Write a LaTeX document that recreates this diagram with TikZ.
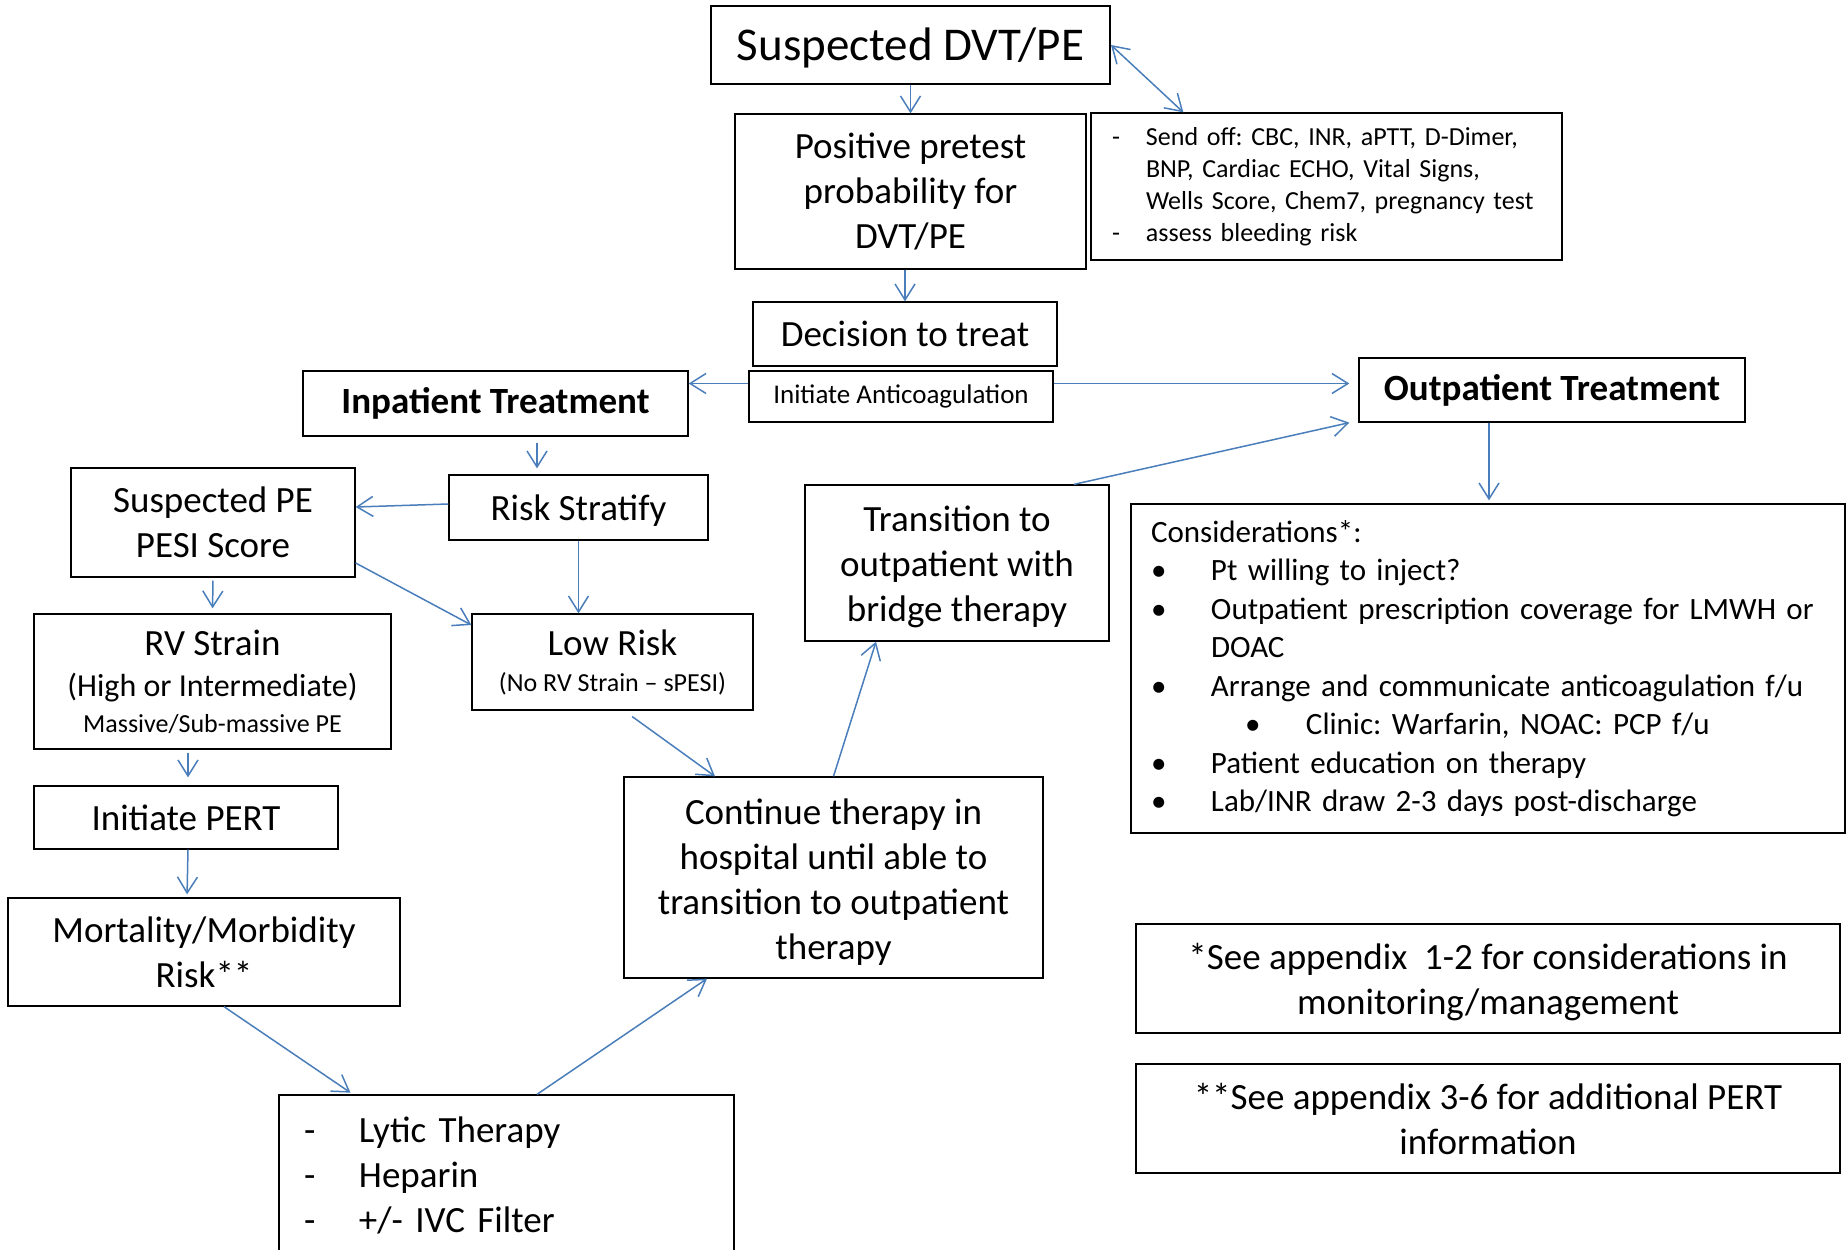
\documentclass[tikz,border=0pt]{standalone}
\usepackage{fontspec}
\setmainfont{Carlito}
\usetikzlibrary{arrows.meta,calc}
\definecolor{arrowblue}{RGB}{74,126,187}
\frenchspacing
\tikzset{
  box/.style={draw=black, line width=1.3pt, align=center, inner sep=0pt,
    font=\fontsize{37}{45}\selectfont},
  listbox/.style={box, align=left},
  arr/.style={draw=arrowblue, line width=1.5pt, -{Straight Barb[length=16pt,width=20pt]}},
  arrboth/.style={arr, {Straight Barb[length=16pt,width=20pt]}-{Straight Barb[length=16pt,width=20pt]}},
}
\begin{document}
\begin{tikzpicture}[x=1pt,y=-1pt]
  \useasboundingbox (0,0) rectangle (1847,1250);

  % Top of the chart
  \node[box, line width=2pt, minimum width=399pt, minimum height=78pt, font=\fontsize{47}{56}\selectfont] (susp) at (910.5,45) {\rule{0pt}{38pt}Suspected DVT/PE};
  \node[box, minimum width=351pt, minimum height=155pt] (pretest) at (910.5,191.5) {Positive pretest\\probability for\\DVT/PE};
  \node[listbox, text width=429pt, inner xsep=21pt, minimum height=147pt, font=\fontsize{26}{32}\selectfont] (sendoff) at (1326.5,186.5)
    {\makebox[34pt][l]{-}Send off: CBC, INR, aPTT, D-Dimer,\\
     \hspace*{34pt}BNP, Cardiac ECHO, Vital Signs,\\
     \hspace*{34pt}Wells Score, Chem7, pregnancy test\\
     \makebox[34pt][l]{-}assess bleeding risk};
  \node[box, minimum width=304pt, minimum height=64pt] (decision) at (905,334) {Decision to treat};
  \node[box, minimum width=304pt, minimum height=51pt, font=\fontsize{27}{33}\selectfont] (initac) at (901,396.5) {Initiate Anticoagulation};

  % Inpatient branch
  \node[box, minimum width=385pt, minimum height=65pt, font=\fontsize{37}{45}\bfseries] (inpat) at (495.5,403.5) {Inpatient Treatment};
  \node[box, minimum width=259pt, minimum height=65pt] (risk) at (578.5,507.5) {\rule{0pt}{32pt}Risk Stratify};
  \node[box, minimum width=284pt, minimum height=109pt] (susppe) at (213,522.5) {Suspected PE\\PESI Score};
  \node[box, minimum width=357pt, minimum height=135pt] (rv) at (212.5,681.5)
    {RV Strain\\[-4pt]{\fontsize{32}{39}\selectfont (High or Intermediate)}\\[-9pt]{\fontsize{26}{32}\selectfont Massive/Sub-massive PE}};
  \node[box, minimum width=281pt, minimum height=96pt] (low) at (612.5,662)
    {Low Risk\\[-9pt]{\fontsize{26}{32}\selectfont (No RV Strain – sPESI)}};
  \node[box, minimum width=304pt, minimum height=63pt] (pert) at (186,817.5) {Initiate PERT};
  \node[box, minimum width=392pt, minimum height=108pt] (mort) at (204,952) {Mortality/Morbidity\\Risk**};
  \node[listbox, text width=405pt, inner xsep=25pt, minimum height=160pt] (lytic) at (506.5,1175)
    {\makebox[55pt][l]{-}Lytic Therapy\\
     \makebox[55pt][l]{-}Heparin\\
     \makebox[55pt][l]{-}+/- IVC Filter};
  \node[box, minimum width=419pt, minimum height=201pt] (cont) at (833.5,877.5)
    {\rule{0pt}{34pt}Continue therapy in\\hospital until able to\\transition to outpatient\\therapy};
  \node[box, minimum width=304pt, minimum height=156pt] (trans) at (957,563) {\rule{0pt}{34pt}Transition to\\outpatient with\\bridge therapy};

  % Outpatient branch
  \node[box, minimum width=386pt, minimum height=64pt, font=\fontsize{37}{45}\bfseries] (outpat) at (1552,390) {Outpatient Treatment};
  \node[listbox, text width=674pt, inner xsep=20pt, minimum height=329pt, font=\fontsize{31}{38.5}\selectfont] (consid) at (1488,668.5)
    {Considerations*:\\
     \makebox[60pt][l]{\textbullet}Pt willing to inject?\\
     \makebox[60pt][l]{\textbullet}Outpatient prescription coverage for LMWH or\\
     \hspace*{60pt}DOAC\\
     \makebox[60pt][l]{\textbullet}Arrange and communicate anticoagulation f/u\\
     \hspace*{94pt}\makebox[61pt][l]{\textbullet}Clinic: Warfarin, NOAC: PCP f/u\\
     \makebox[60pt][l]{\textbullet}Patient education on therapy\\
     \makebox[60pt][l]{\textbullet}Lab/INR draw 2-3 days post-discharge};
  \node[box, minimum width=704pt, minimum height=109pt] (app1) at (1488,978.5) {\rule{0pt}{34pt}*See appendix~ 1-2 for considerations in\\monitoring/management};
  \node[box, minimum width=704pt, minimum height=109pt] (app2) at (1488,1118.5) {**See appendix 3-6 for additional PERT\\information};

  % Connectors
  \draw[arr] (susp) -- (pretest);
  \draw[arrboth] (susp.east) -- ($(sendoff.north west)+(93,0)$);
  \draw[arr] (pretest.south -| decision.north) -- (decision.north);
  \draw[arr] ([yshift=13pt]initac.west) -- ([yshift=13pt]initac.west -| inpat.east);
  \draw[arr, shorten >=9pt] ([yshift=13pt]initac.east) -- ([yshift=13pt]initac.east -| outpat.west);
  \draw[arr, shorten <=6pt, shorten >=6pt] ([xshift=41.5pt]inpat.south) -- ([xshift=41.5pt]inpat.south |- risk.north);
  \draw[arr] ([yshift=3.5pt]risk.west) -- ([yshift=15.5pt]susppe.east);
  \draw[arr] (risk.south) -- (risk.south |- low.north);
  \draw[arr] ([yshift=-40.5pt]susppe.east) -- ([yshift=37pt]low.west);
  \draw[arr, shorten <=3pt, shorten >=5pt] (susppe.south) -- (rv.north);
  \draw[arr, shorten <=3pt, shorten >=8pt] ([xshift=-24.5pt]rv.south) -- ([xshift=-24.5pt]rv.south |- pert.north);
  \draw[arr, shorten >=3pt] ([xshift=2pt]pert.south) -- ([xshift=-17pt]mort.north);
  \draw[arr, shorten >=3pt] ([xshift=20pt]mort.south) -- ([xshift=-153.5pt]lytic.north);
  \draw[arr] ([xshift=30.5pt]lytic.north) -- ([xshift=-126.5pt]cont.south);
  \draw[arr, shorten <=10pt] ([xshift=11.5pt]low.south) -- ([xshift=-118.5pt]cont.north);
  \draw[arr] (cont.north) -- ([xshift=-81pt]trans.south);
  \draw[arr] ([xshift=117pt]trans.north) -- ([xshift=-9pt]outpat.south west);
  \draw[arr, shorten >=3pt] ([xshift=-63pt]outpat.south) -- ([xshift=-63pt]outpat.south |- consid.north);
\end{tikzpicture}
\end{document}
